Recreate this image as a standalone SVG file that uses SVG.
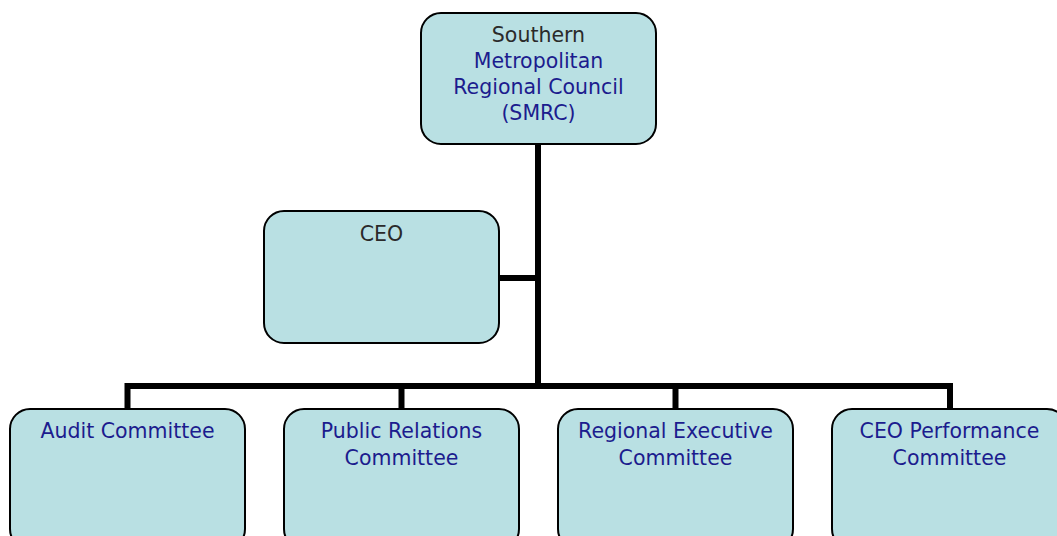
<svg xmlns="http://www.w3.org/2000/svg" width="1057" height="536" viewBox="0 0 1057 536">
<style>
.box{fill:#b9e0e3;stroke:#000;stroke-width:2}
.t{font-family:"DejaVu Sans",sans-serif;font-size:20.5px;fill:#1c1c8e;text-anchor:middle}
.d{fill:#2a2a2a}
.c{stroke:#000;stroke-width:6;fill:none}
</style>
<rect width="1057" height="536" fill="#fff"/>
<g id="connectors">
<line class="c" x1="538" y1="145" x2="538" y2="389"/>
<line class="c" x1="499" y1="278" x2="538" y2="278"/>
<polyline class="c" points="127.5,409 127.5,386 950,386 950,409"/>
<line class="c" x1="401.5" y1="386" x2="401.5" y2="409"/>
<line class="c" x1="675.5" y1="386" x2="675.5" y2="409"/>
</g>
<g id="smrc">
<rect class="box" x="421" y="13" width="235" height="131" rx="20"/>
<text class="t" x="538.5"><tspan class="d" x="538.5" y="42">Southern</tspan><tspan x="538.5" y="68">Metropolitan</tspan><tspan x="538.5" y="94">Regional Council</tspan><tspan x="538.5" y="120">(SMRC)</tspan></text>
</g>
<g id="ceo">
<rect class="box" x="264" y="211" width="235" height="132" rx="20"/>
<text class="t d" x="381.5" y="241">CEO</text>
</g>
<g id="audit">
<rect class="box" x="10" y="409" width="235" height="140" rx="20"/>
<text class="t" x="127.5" y="438">Audit Committee</text>
</g>
<g id="pr">
<rect class="box" x="284" y="409" width="235" height="140" rx="20"/>
<text class="t" x="401.5"><tspan x="401.5" y="438">Public Relations</tspan><tspan x="401.5" y="465">Committee</tspan></text>
</g>
<g id="rec">
<rect class="box" x="558" y="409" width="235" height="140" rx="20"/>
<text class="t" x="675.5"><tspan x="675.5" y="438">Regional Executive</tspan><tspan x="675.5" y="465">Committee</tspan></text>
</g>
<g id="ceoperf">
<rect class="box" x="832" y="409" width="235" height="140" rx="20"/>
<text class="t" x="949.5"><tspan x="949.5" y="438">CEO Performance</tspan><tspan x="949.5" y="465">Committee</tspan></text>
</g>
</svg>
